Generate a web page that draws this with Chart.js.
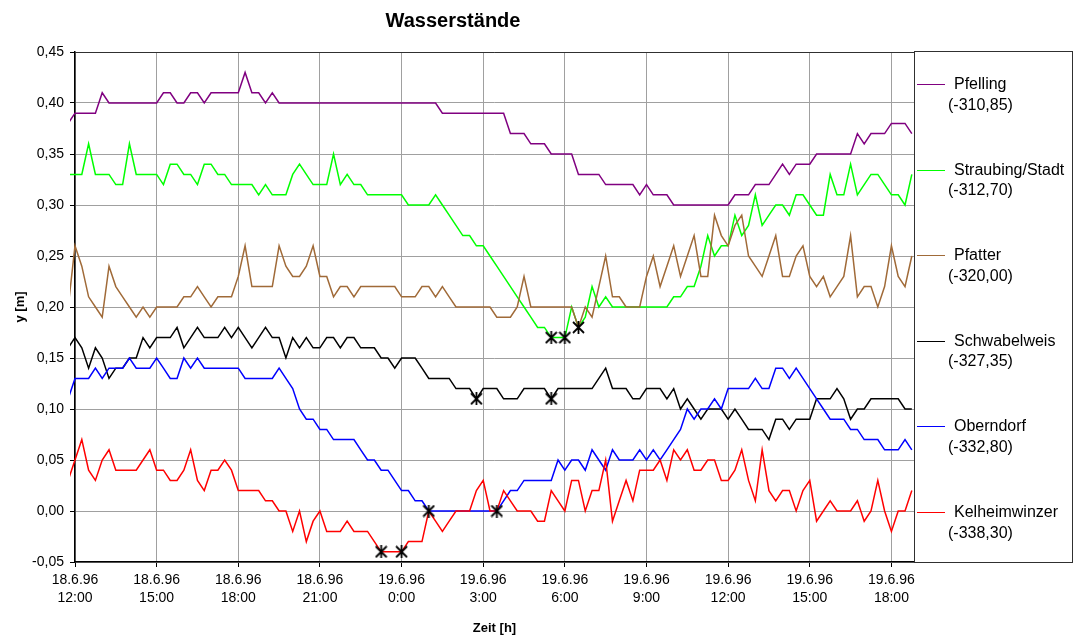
<!DOCTYPE html>
<html>
<head>
<meta charset="utf-8">
<title>Wasserstände</title>
<script src="https://cdn.jsdelivr.net/npm/chart.js@4/dist/chart.umd.min.js"></script>
<style>
  html, body { margin: 0; padding: 0; background: #fff; }
  #wrap { position: relative; width: 1073px; height: 636px; font-family: 'Liberation Sans', Arial, sans-serif; color: #000; }
  #chart { position: absolute; left: 0; top: 0; }
  #title { position: absolute; left: 303px; width: 300px; top: 9px; line-height: 22px; text-align: center; font-weight: bold; font-size: 20px; }
  #legend { position: absolute; left: 914px; top: 51px; width: 157px; height: 510px; border: 1px solid #303030; }
  .sample { position: absolute; left: 2px; width: 28px; height: 0; border-top: 1.5px solid; }
  .name, .code { position: absolute; font-size: 16px; line-height: 20px; white-space: nowrap; }
  .name { left: 39px; }
  .code { left: 33px; }
</style>
</head>
<body>
<div id="wrap">
  <canvas id="chart" width="1073" height="636"></canvas>
  <div id="title">Wasserstände</div>
  <div id="legend"></div>
</div>
<script>
// Messwerte alle 15 min, erster Wert 18.6.96 11:45 (Stunde -0.25 ab 12:00)
const firstHour = -0.25;
const stepHours = 0.25;

const seriesNames = ['Pfelling', 'Straubing/Stadt', 'Pfatter', 'Schwabelweis', 'Oberndorf', 'Kelheimwinzer'];
const seriesCodes = ['(-310,85)', '(-312,70)', '(-320,00)', '(-327,35)', '(-332,80)', '(-338,30)'];
const seriesColors = ['#800080', '#00ff00', '#a06a38', '#000000', '#0000ff', '#ff0000'];

const pfelling = [0.38,
  0.39,0.39,0.39,0.39,0.41,0.40,0.40,0.40,0.40,0.40,0.40,0.40,
  0.40,0.41,0.41,0.40,0.40,0.41,0.41,0.40,0.41,0.41,0.41,0.41,
  0.41,0.43,0.41,0.41,0.40,0.41,0.40,0.40,0.40,0.40,0.40,0.40,
  0.40,0.40,0.40,0.40,0.40,0.40,0.40,0.40,0.40,0.40,0.40,0.40,
  0.40,0.40,0.40,0.40,0.40,0.40,0.39,0.39,0.39,0.39,0.39,0.39,
  0.39,0.39,0.39,0.39,0.37,0.37,0.37,0.36,0.36,0.36,0.35,0.35,
  0.35,0.35,0.33,0.33,0.33,0.33,0.32,0.32,0.32,0.32,0.32,0.31,
  0.32,0.31,0.31,0.31,0.30,0.30,0.30,0.30,0.30,0.30,0.30,0.30,
  0.30,0.31,0.31,0.31,0.32,0.32,0.32,0.33,0.34,0.33,0.34,0.34,
  0.34,0.35,0.35,0.35,0.35,0.35,0.35,0.37,0.36,0.37,0.37,0.37,
  0.38,0.38,0.38,0.37];

const straubing = [0.33,
  0.33,0.33,0.36,0.33,0.33,0.33,0.32,0.32,0.36,0.33,0.33,0.33,
  0.33,0.32,0.34,0.34,0.33,0.33,0.32,0.34,0.34,0.33,0.33,0.32,
  0.32,0.32,0.32,0.31,0.32,0.31,0.31,0.31,0.33,0.34,0.33,0.32,
  0.32,0.32,0.35,0.32,0.33,0.32,0.32,0.31,0.31,0.31,0.31,0.31,
  0.31,0.30,0.30,0.30,0.30,0.31,0.30,0.29,0.28,0.27,0.27,0.26,
  0.26,0.25,0.24,0.23,0.22,0.21,0.20,0.19,0.18,0.18,0.17,0.17,
  0.17,0.20,0.18,0.19,0.22,0.20,0.21,0.20,0.20,0.20,0.20,0.20,
  0.20,0.20,0.20,0.20,0.21,0.21,0.22,0.22,0.24,0.27,0.25,0.26,
  0.26,0.29,0.27,0.28,0.31,0.28,0.29,0.30,0.30,0.29,0.31,0.31,
  0.30,0.29,0.29,0.33,0.31,0.31,0.34,0.31,0.32,0.33,0.33,0.32,
  0.31,0.31,0.30,0.33];

const pfatter = [0.20,
  0.26,0.24,0.21,0.20,0.19,0.24,0.22,0.21,0.20,0.19,0.20,0.19,
  0.20,0.20,0.20,0.20,0.21,0.21,0.22,0.21,0.20,0.21,0.21,0.21,
  0.23,0.26,0.22,0.22,0.22,0.22,0.26,0.24,0.23,0.23,0.24,0.26,
  0.23,0.23,0.21,0.22,0.22,0.21,0.22,0.22,0.22,0.22,0.22,0.22,
  0.21,0.21,0.21,0.22,0.22,0.21,0.22,0.21,0.20,0.20,0.20,0.20,
  0.20,0.20,0.19,0.19,0.19,0.20,0.23,0.20,0.20,0.20,0.20,0.20,
  0.20,0.20,0.18,0.20,0.19,0.22,0.25,0.21,0.21,0.20,0.20,0.20,
  0.23,0.25,0.22,0.24,0.26,0.23,0.25,0.27,0.23,0.23,0.29,0.27,
  0.26,0.28,0.29,0.25,0.24,0.23,0.25,0.27,0.23,0.23,0.25,0.26,
  0.23,0.22,0.23,0.21,0.22,0.23,0.27,0.21,0.22,0.22,0.20,0.22,
  0.26,0.23,0.22,0.25];

const schwabelweis = [0.16,
  0.17,0.16,0.14,0.16,0.15,0.13,0.14,0.14,0.15,0.15,0.17,0.16,
  0.17,0.17,0.17,0.18,0.16,0.17,0.18,0.17,0.17,0.17,0.18,0.17,
  0.18,0.17,0.16,0.17,0.18,0.17,0.17,0.15,0.17,0.16,0.17,0.16,
  0.16,0.17,0.17,0.16,0.17,0.17,0.16,0.16,0.16,0.15,0.15,0.14,
  0.15,0.15,0.15,0.14,0.13,0.13,0.13,0.13,0.12,0.12,0.12,0.11,
  0.12,0.12,0.12,0.11,0.11,0.11,0.12,0.12,0.12,0.12,0.11,0.12,
  0.12,0.12,0.12,0.12,0.12,0.13,0.14,0.12,0.12,0.12,0.11,0.11,
  0.12,0.12,0.12,0.11,0.12,0.10,0.11,0.10,0.09,0.10,0.10,0.10,
  0.09,0.10,0.09,0.08,0.08,0.08,0.07,0.09,0.09,0.08,0.09,0.09,
  0.09,0.11,0.11,0.11,0.12,0.11,0.09,0.10,0.10,0.11,0.11,0.11,
  0.11,0.11,0.10,0.10];

const oberndorf = [0.11,
  0.13,0.13,0.13,0.14,0.13,0.14,0.14,0.14,0.15,0.14,0.14,0.14,
  0.15,0.14,0.13,0.13,0.15,0.14,0.15,0.14,0.14,0.14,0.14,0.14,
  0.14,0.13,0.13,0.13,0.13,0.13,0.14,0.13,0.12,0.10,0.09,0.09,
  0.08,0.08,0.07,0.07,0.07,0.07,0.06,0.05,0.05,0.04,0.04,0.03,
  0.02,0.02,0.01,0.01,0.00,0.00,0.00,0.00,0.00,0.00,0.00,0.00,
  0.00,0.00,0.00,0.01,0.02,0.02,0.03,0.03,0.03,0.03,0.03,0.05,
  0.04,0.05,0.05,0.04,0.06,0.05,0.04,0.06,0.05,0.05,0.05,0.06,
  0.05,0.06,0.05,0.06,0.07,0.08,0.10,0.09,0.10,0.10,0.11,0.10,
  0.12,0.12,0.12,0.12,0.13,0.12,0.12,0.14,0.14,0.13,0.14,0.13,
  0.12,0.11,0.10,0.09,0.09,0.09,0.08,0.08,0.07,0.07,0.07,0.06,
  0.06,0.06,0.07,0.06];

const kelheimwinzer = [0.03,
  0.05,0.07,0.04,0.03,0.05,0.06,0.04,0.04,0.04,0.04,0.05,0.06,
  0.04,0.04,0.03,0.03,0.04,0.06,0.03,0.02,0.04,0.04,0.05,0.04,
  0.02,0.02,0.02,0.02,0.01,0.01,0.00,0.00,-0.02,0.00,-0.03,-0.01,
  0.00,-0.02,-0.02,-0.02,-0.01,-0.02,-0.02,-0.02,-0.03,-0.04,-0.04,-0.04,
  -0.04,-0.03,-0.03,-0.03,0.00,-0.01,-0.02,-0.01,0.00,0.00,0.00,0.02,
  0.03,0.00,0.00,0.02,0.01,0.00,0.00,0.00,-0.01,-0.01,0.02,0.01,
  0.00,0.03,0.03,0.00,0.02,0.02,0.05,-0.01,0.01,0.03,0.01,0.04,
  0.04,0.04,0.05,0.03,0.06,0.05,0.06,0.04,0.04,0.05,0.05,0.03,
  0.03,0.04,0.06,0.03,0.01,0.06,0.02,0.01,0.02,0.02,0.00,0.02,
  0.03,-0.01,0.00,0.01,0.00,0.00,0.00,0.01,-0.01,0.00,0.03,0.00,
  -0.02,0.00,0.00,0.02];

// markierte Punkte (Sternchen), Stunden ab 18.6.96 12:00
const markHours  = [11.25, 12, 13, 14.75, 15.5, 17.5, 17.5, 18, 18.5];
const markValues = [-0.04, -0.04, 0.00, 0.11, 0.00, 0.11, 0.17, 0.17, 0.18];

const allSeries = [pfelling, straubing, pfatter, schwabelweis, oberndorf, kelheimwinzer];

// Sternchen-Marker wie in Excel (X mit senkrechtem Strich)
function makeStar(size) {
  const c = document.createElement('canvas');
  c.width = size; c.height = size;
  const g = c.getContext('2d');
  g.strokeStyle = '#000';
  g.lineWidth = 1.8;
  g.beginPath();
  g.moveTo(1, 1); g.lineTo(size - 1, size - 1);
  g.moveTo(size - 1, 1); g.lineTo(1, size - 1);
  g.moveTo(size / 2, 0); g.lineTo(size / 2, size);
  g.stroke();
  return c;
}

const datasets = allSeries.map((vals, s) => ({
  label: seriesNames[s],
  data: vals.map((v, i) => ({ x: firstHour + i * stepHours, y: v })),
  borderColor: seriesColors[s],
  backgroundColor: seriesColors[s],
  borderWidth: 1.5,
  pointRadius: 0,
  tension: 0,
  clip: { left: 5, top: 0, right: 0, bottom: 0 },
  order: 6 - s
}));

datasets.push({
  label: 'Marken',
  type: 'scatter',
  data: markHours.map((h, i) => ({ x: h, y: markValues[i] })),
  pointStyle: makeStar(13),
  pointRadius: 6.5,
  showLine: false,
  order: -1
});

// Rahmen um die Zeichenfläche
const frame = {
  id: 'frame',
  afterDraw(chart) {
    const { ctx, chartArea: a } = chart;
    ctx.save();
    ctx.strokeStyle = '#303030';
    ctx.lineWidth = 1;
    ctx.beginPath();
    ctx.moveTo(a.left, a.top + 0.5);
    ctx.lineTo(a.right + 0.5, a.top + 0.5);
    ctx.lineTo(a.right + 0.5, a.bottom);
    ctx.stroke();
    ctx.restore();
  }
};

const fontFam = "'Liberation Sans', Arial, sans-serif";

new Chart(document.getElementById('chart'), {
  type: 'line',
  data: { datasets },
  options: {
    responsive: false,
    animation: false,
    layout: { padding: { left: 0, top: 52, right: 159, bottom: 0 } },
    plugins: {
      legend: { display: false },
      title: { display: false },
      tooltip: { enabled: false }
    },
    scales: {
      x: {
        type: 'linear',
        min: 0,
        max: 30.83,
        afterFit: (scale) => { scale.height = 74; },
        grid: { color: '#a0a0a0', tickColor: '#000', tickLength: 5 },
        border: { color: '#000', width: 1.5 },
        ticks: {
          stepSize: 3,
          includeBounds: false,
          maxRotation: 0,
          autoSkip: false,
          padding: 4,
          color: '#000',
          font: { family: fontFam, size: 14, lineHeight: 1.3 },
          callback: (v) => {
            const h = 12 + v;
            const day = 18 + Math.floor(h / 24);
            return [day + '.6.96', (h % 24) + ':00'];
          }
        },
        title: {
          display: true,
          text: 'Zeit [h]',
          color: '#000',
          font: { family: fontFam, size: 13, weight: 'bold' },
          padding: { top: 4, bottom: 0 }
        }
      },
      y: {
        min: -0.05,
        max: 0.45,
        afterFit: (scale) => { scale.width = 75; },
        grid: { color: '#a0a0a0', tickColor: '#000', tickLength: 5 },
        border: { color: '#000', width: 1.5 },
        ticks: {
          stepSize: 0.05,
          padding: 6,
          color: '#000',
          font: { family: fontFam, size: 14 },
          callback: (v) => v.toFixed(2).replace('.', ',')
        },
        title: {
          display: true,
          text: 'y [m]',
          color: '#000',
          font: { family: fontFam, size: 13, weight: 'bold' },
          padding: { top: 13, bottom: 0 }
        }
      }
    }
  },
  plugins: [frame]
});

// Legende rechts, zweizeilig
const legend = document.getElementById('legend');
seriesNames.forEach((name, i) => {
  const yc = 32 + i * 85.6;
  const line = document.createElement('div');
  line.className = 'sample';
  line.style.top = yc + 'px';
  line.style.borderTopColor = seriesColors[i];
  legend.appendChild(line);

  const n = document.createElement('div');
  n.className = 'name';
  n.style.top = (yc - 10) + 'px';
  n.textContent = name;
  legend.appendChild(n);

  const c = document.createElement('div');
  c.className = 'code';
  c.style.top = (yc + 10.5) + 'px';
  c.textContent = seriesCodes[i];
  legend.appendChild(c);
});
</script>
</body>
</html>
